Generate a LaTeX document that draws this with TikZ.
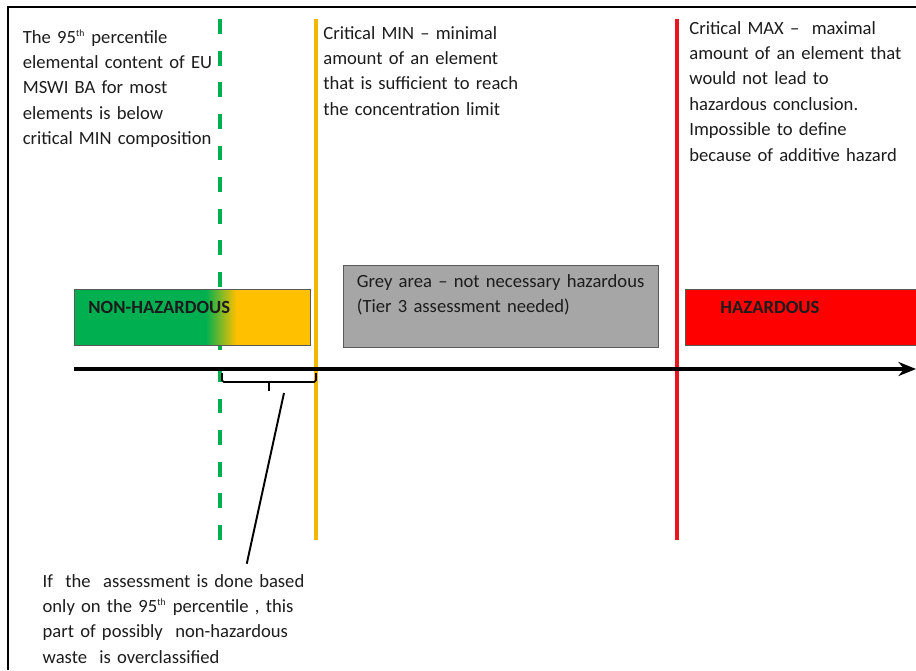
\documentclass[tikz,border=0pt]{standalone}
\usepackage{fontspec}
\setmainfont{Carlito}
\usetikzlibrary{arrows.meta}

\definecolor{safegreen}{HTML}{00B050}
\definecolor{safeorange}{HTML}{FFC000}
\definecolor{minyellow}{HTML}{F2B800}
\definecolor{maxred}{HTML}{E8161E}
\definecolor{hazred}{HTML}{FF0000}
\definecolor{greyfill}{HTML}{A6A6A6}
\definecolor{inktext}{HTML}{1C1C1C}

\pgfdeclarehorizontalshading{safefade}{100bp}{color(0bp)=(safegreen); color(52.8bp)=(safegreen); color(59.3bp)=(safeorange); color(100bp)=(safeorange)}

\newcommand\notefont{\fontsize{10.6pt}{14.5pt}\selectfont}
\newcommand\ordsup[1]{\textsuperscript{\fontsize{5.5pt}{6pt}\selectfont #1}}

\tikzset{
  zone/.style={rectangle, draw=black!65, line width=0.5pt, inner ysep=0pt, align=left, anchor=north west, text=inktext, font=\notefont},
  note/.style={inner sep=0pt, align=left, anchor=base west, text=inktext, font=\notefont},
  limitline/.style={line width=2.3pt},
  axisline/.style={line width=2.8pt, -{Stealth[length=10pt, width=8pt]}},
  bracket/.style={line width=0.9pt, rounded corners=1pt},
  pointer/.style={line width=1.1pt}
}

\begin{document}
\begin{tikzpicture}[x=0.02cm, y=-0.02cm]
  \useasboundingbox (0,0) rectangle (916,670);
  % Frame
  \draw[line width=1.4pt] (8,670) -- (8,7) -- (916,7);
  % Limits
  \draw[limitline, draw=safegreen, dash pattern=on 8.5pt off 9.5pt] (220,19) -- (220,540);
  \draw[limitline, draw=minyellow] (316,19) -- (316,540);
  \draw[limitline, draw=maxred, line width=1.9pt] (677,19) -- (677,540);
  % Zones
  \node (nonhaz) [zone, shade, shading=safefade, text width=4.16cm, inner xsep=0.28cm, text height=0.48cm, text depth=0.64cm, font=\notefont\bfseries] at (74,289) {NON-HAZARDOUS};
  \node (greyzone) [zone, fill=greyfill, text width=5.76cm, inner xsep=0.27cm, text height=0.44cm, text depth=1.21cm] at (343,265) {\mbox{Grey area – not necessary hazardous}\\\mbox{(Tier 3 assessment needed)}};
  \node (hazard) [zone, fill=hazred, text width=3.5cm, inner xsep=0.7cm, text height=0.48cm, text depth=0.64cm, font=\notefont\bfseries] at (685,289) {HAZARDOUS};
  % Axis
  \coordinate (axisstart) at (74,369);
  \coordinate (axisend) at (916,369);
  \draw[axisline] (axisstart) -- (axisend);
  % Bracket
  \draw[bracket] (222,373) -- (222,382) -- (316,382) -- (316,373);
  \draw[bracket] (269,382) -- (269,391);
  \coordinate (bracetip) at (284,393);
  % Notes
  \node (pctnote) [note, text width=4.6cm] at (22.5,43) {The 95\ordsup{th} percentile\\elemental content of EU\\MSWI BA for most\\elements  is below\\critical MIN composition};
  \node (minnote) [note, text width=4.6cm] at (323,39) {Critical MIN – minimal\\amount of an element\\that is sufficient to reach\\the concentration limit};
  \node (maxnote) [note, text width=4.8cm] at (689,34) {Critical MAX –\ \ maximal\\amount of an element that\\would not lead to\\hazardous conclusion.\\Impossible to define\\because of additive hazard};
  \node (overnote) [note, text width=5.6cm] at (42.3,587) {If\ \ the\ \ assessment is done based\\only on the 95\ordsup{th} percentile , this\\part of possibly\ \ non-hazardous\\waste\ \ is overclassified};
  % Pointer
  \draw[pointer] ([xshift=4.09cm, yshift=0.2cm]overnote.north west) -- (bracetip);
\end{tikzpicture}
\end{document}
